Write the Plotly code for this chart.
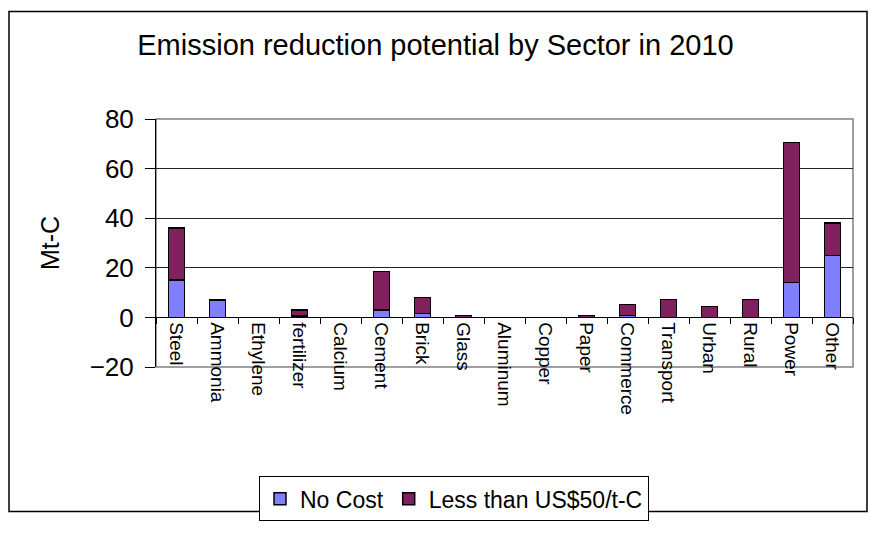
import plotly.graph_objects as go

categories = ["Steel", "Ammonia", "Ethylene", "fertilizer", "Calcium", "Cement", "Brick",
              "Glass", "Aluminum", "Copper", "Paper", "Commerce", "Transport", "Urban",
              "Rural", "Power", "Other"]
no_cost = [15, 7, None, 0.5, None, 3, 1.5, None, None, None, None, 0.8, None, None, None, 14, 25]
less_50 = [21, None, None, 2.5, None, 15.5, 6.5, 0.7, None, None, 0.7, 4.4, 7.3, 4.4, 7.3, 56.5, 13]
y_ticks = [-20, 0, 20, 40, 60, 80]

FONT = "Liberation Sans, Arial, sans-serif"

fig = go.Figure()
fig.add_trace(go.Bar(x=categories, y=no_cost, name="No Cost",
                     marker=dict(color="#8080FF", line=dict(color="black", width=1.5))))
fig.add_trace(go.Bar(x=categories, y=less_50, name="Less than US$50/t-C",
                     marker=dict(color="#80205F", line=dict(color="black", width=1.5))))

# pixel geometry helpers (plot area: x 156..853, y 119..373)
L, R, T, B = 156, 853, 119, 373
W, H = R - L, B - T
def px(x): return (x - L) / W
def py(y): return (B - y) / H

fig.update_layout(
    width=871, height=533,
    margin=dict(l=L, r=871 - R, t=T, b=533 - B),
    barmode="stack", bargap=0.6,
    plot_bgcolor="white", paper_bgcolor="white",
    font=dict(family=FONT, color="black"),
    title=dict(text="Emission reduction potential by Sector in 2010",
               x=0.5, xref="container", xanchor="center",
               y=1 - 45 / 533, yref="container", yanchor="middle",
               font=dict(size=29, family=FONT, color="black")),
    xaxis=dict(type="category", anchor="free", position=0.2,
               showline=True, linecolor="black", linewidth=1,
               ticks="outside", tickson="boundaries", ticklen=6, tickcolor="black",
               tickangle=90, tickfont=dict(size=19, family=FONT, color="black"),
               showgrid=False),
    yaxis=dict(range=[-20, 80], tickvals=y_ticks, ticks="outside", ticklen=10,
               tickcolor="black", showline=True, linecolor="black", linewidth=1,
               showgrid=True, gridcolor="#222222", gridwidth=1, zeroline=False,
               ticklabelstandoff=6,
               tickfont=dict(size=26, family=FONT, color="black"),
               title=dict(text="Mt-C", font=dict(size=25, family=FONT, color="black"), standoff=22)),
    legend=dict(orientation="h", x=px(454), xanchor="center", y=py(485), yanchor="top",
                traceorder="normal", itemwidth=30,
                bordercolor="black", borderwidth=1, bgcolor="white",
                font=dict(size=23, family=FONT, color="black")),
    shapes=[
        dict(type="rect", xref="paper", yref="paper", x0=0, x1=1, y0=0, y1=1,
             line=dict(color="#808080", width=1.5), layer="below"),
        dict(type="rect", xref="paper", yref="paper", x0=px(9), x1=px(867), y0=py(521), y1=py(9),
             line=dict(color="black", width=1.5)),
    ],
)

fig.write_html("out.html")
